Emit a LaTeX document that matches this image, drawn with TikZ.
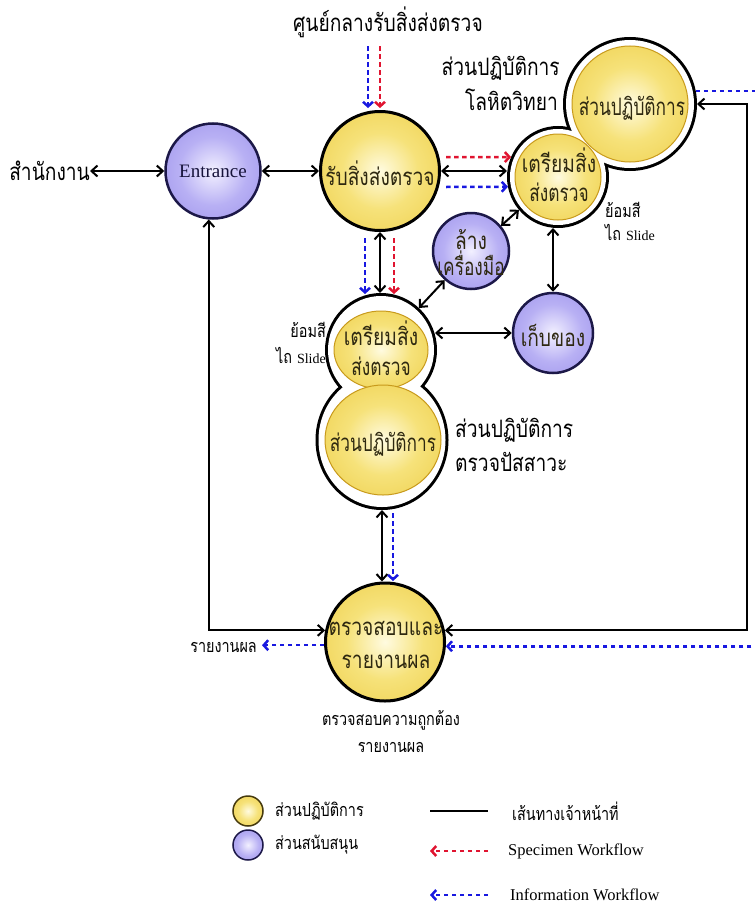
\documentclass[tikz,border=0pt]{standalone}
\usepackage{fontspec}
\setmainfont{Liberation Serif}
\newfontfamily\thai[Script=Thai,FakeStretch=0.8]{Loma}
\newfontfamily\thainarrow[Script=Thai,FakeStretch=0.72]{Loma}
\usetikzlibrary{arrows.meta,shapes.geometric,calc}

% palette
\definecolor{labgold}{HTML}{E8C12A}
\definecolor{labmid}{HTML}{F6E27A}
\definecolor{labcream}{HTML}{FFFBE0}
\definecolor{labrim}{HTML}{C89A1C}
\definecolor{supviolet}{HTML}{887CE4}
\definecolor{supmid}{HTML}{B8B0F4}
\definecolor{suppale}{HTML}{F2F0FF}
\definecolor{supedge}{HTML}{1C1848}
\definecolor{specred}{HTML}{E01430}
\definecolor{infoblue}{HTML}{1818E0}
\definecolor{inktext}{HTML}{2E2810}

\pgfdeclareradialshading{labglow}{\pgfpoint{0bp}{0bp}}{%
  color(0bp)=(labcream); color(16bp)=(labmid); color(50bp)=(labgold)}
\pgfdeclareradialshading{supglow}{\pgfpoint{0bp}{0bp}}{%
  color(0bp)=(suppale); color(18bp)=(supmid); color(50bp)=(supviolet)}

\tikzset{
  lab/.style={ellipse, shading=labglow, inner sep=0pt},
  labmain/.style={lab, draw=black, line width=3bp},
  labinner/.style={lab, draw=labrim, line width=1bp},
  support/.style={ellipse, shading=supglow, draw=supedge, line width=2.5bp, inner sep=0pt},
  ring/.style={ellipse, draw=black, fill=white, line width=6bp, inner sep=0pt},
  staff/.style={draw=black, line width=2bp,
    {Straight Barb[length=6bp,width=11bp]}-{Straight Barb[length=6bp,width=11bp]}},
  staffline/.style={draw=black, line width=2bp},
  specimen/.style={draw=specred, line width=2.5bp, dash pattern=on 4.5bp off 3.5bp,
    -{Straight Barb[length=4.5bp,width=10bp]}},
  info/.style={draw=infoblue, line width=2.5bp, dash pattern=on 4.5bp off 3.5bp,
    -{Straight Barb[length=4.5bp,width=10bp]}},
  intext/.style={inner sep=0pt, text=inktext, font=\thai\fontsize{24bp}{24bp}\selectfont},
  intextnarrow/.style={inner sep=0pt, text=inktext, font=\thainarrow\fontsize{24bp}{24bp}\selectfont},
  sidetext/.style={inner sep=0pt, text=black, font=\thai\fontsize{24bp}{24bp}\selectfont},
  smalltext/.style={inner sep=0pt, text=black, font=\thai\fontsize{18bp}{18bp}\selectfont},
  latintext/.style={inner sep=0pt, text=black, font=\fontsize{16.5bp}{16.5bp}\selectfont},
}
\newcommand{\slidetag}{{\fontsize{14bp}{14bp}\selectfont\rmfamily Slide}}

\begin{document}
\begin{tikzpicture}[x=1bp,y=-1bp]
\useasboundingbox[fill=white] (0,0) rectangle (755,906);

% ---------- stand-alone circles ----------
\node[support, minimum width=95bp, minimum height=95bp] (entr) at (213,171) {};
\node[labmain, minimum width=119bp, minimum height=119bp] (rcv) at (380,171) {};
\node[labmain, minimum width=119bp, minimum height=118bp] (chk) at (385,642) {};
\node[support, minimum width=76bp, minimum height=76bp] (wash) at (471,251) {};
\node[support, minimum width=80bp, minimum height=80bp] (store) at (553,333) {};

% ---------- haematology cluster (prep + lab inside one outline) ----------
\node[ring, minimum width=96bp, minimum height=96bp] (hemaprepring) at (558,177) {};
\node[ring, minimum width=128bp, minimum height=128bp] (hemaring) at (630,104) {};
\fill[white] (hemaprepring.center) circle[radius=48bp] (hemaring.center) circle[radius=64bp];
\node[labinner, minimum width=116bp, minimum height=116bp] (hemalab) at (630,104) {};
\node[labinner, minimum width=86bp, minimum height=86bp] (hemaprep) at (558,177) {};

% ---------- urinalysis cluster ----------
\node[ring, minimum width=106bp, minimum height=108bp] (urprepring) at (381,350) {};
\node[ring, minimum width=127bp, minimum height=134bp] (urring) at (382,440) {};
\fill[white] (urprepring.center) ellipse[x radius=53bp, y radius=54bp]
             (urring.center) ellipse[x radius=63.5bp, y radius=67bp];
\node[labinner, minimum width=94bp, minimum height=78bp] (urprep) at (381,350) {};
\node[labinner, minimum width=116bp, minimum height=110bp] (urlab) at (383,440) {};

% ---------- texts inside circles ----------
\node[inner sep=0pt, text=supedge!80!black, font=\fontsize{19bp}{19bp}\selectfont] (entr-t) at (entr) {Entrance};
\node[intext] (rcv-t) at (380,173) {รับสิ่งส่งตรวจ};
\node[intextnarrow] (hemalab-t) at (632,108) {ส่วนปฏิบัติการ};
\node[intext] (hemaprep-t1) at (559,160) {เตรียมสิ่ง};
\node[intextnarrow] (hemaprep-t2) at (559,192) {ส่งตรวจ};
\node[intext] (urprep-t1) at (381,333) {เตรียมสิ่ง};
\node[intextnarrow] (urprep-t2) at (381,366) {ส่งตรวจ};
\node[intextnarrow] (urlab-t) at (383,444) {ส่วนปฏิบัติการ};
\node[intext] (wash-t1) at (471,240) {ล้าง};
\node[intextnarrow] (wash-t2) at (471,263) {เครื่องมือ};
\node[intext] (store-t) at (553,335) {เก็บของ};
\node[intext] (chk-t1) at (386,628) {ตรวจสอบและ};
\node[intext] (chk-t2) at (386,662) {รายงานผล};

% ---------- side labels ----------
\node[sidetext] (centre-t) at (388,22) {ศูนย์กลางรับสิ่งส่งตรวจ};
\node[sidetext, anchor=east] (office) at (90,171) {สำนักงาน};
\node[sidetext, anchor=east] (hema-l1) at (560,68) {ส่วนปฏิบัติการ};
\node[sidetext, anchor=east] (hema-l2) at (558,100) {โลหิตวิทยา};
\node[smalltext, anchor=west] (stain-r1) at (605,210) {ย้อมสี};
\node[smalltext, anchor=west] (stain-r2) at (605,232) {ไถ \slidetag};
\node[smalltext, anchor=east] (stain-l1) at (326,330) {ย้อมสี};
\node[smalltext, anchor=east] (stain-l2) at (326,355) {ไถ \slidetag};
\node[sidetext, anchor=west] (ur-l1) at (455,430) {ส่วนปฏิบัติการ};
\node[sidetext, anchor=west] (ur-l2) at (455,462) {ตรวจปัสสาวะ};
\node[smalltext] (verify-t1) at (391,720) {ตรวจสอบความถูกต้อง};
\node[smalltext] (verify-t2) at (391,747) {รายงานผล};
\node[smalltext, anchor=east] (report-t) at (257,647) {รายงานผล};

% ---------- staff routes ----------
\draw[staff] (office.east) -- (entr.west);
\draw[staff] (entr.east) -- (rcv.west);
\draw[staff] (rcv.east) -- (rcv.east -| hemaprepring.west);
\draw[staff] (rcv.south) -- (rcv.south |- urprepring.north);
\draw[staff] (wash.40) -- (hemaprepring.220);
\draw[staff] (wash.228) -- (urprepring.48);
\draw[staff] (store.north) -- (store.north |- hemaprepring.south);
\draw[staff] ([xshift=-2bp]urprepring.east |- store.west) -- (store.west);
\draw[staff] (urring.south) -- (urring.south |- chk.north);
\draw[staff] (entr.265) |- (chk.169);
\coordinate (eastrail) at (747,400);
\draw[staff] (chk.11) -| (eastrail) |- (hemaring.east);

% ---------- specimen / information flows ----------
\coordinate (infoIn) at (368,46);
\coordinate (specIn) at (380,46);
\draw[info] (infoIn) -- (368,108);
\draw[specimen] (specIn) -- (380,108);
\draw[info] (365,238) -- (365,294);
\draw[specimen] (394,238) -- (394,294);
\draw[specimen] (446,157) -- (hemaprepring.157);
\draw[info] (446,187) -- (hemaprepring.191);
\draw[info] (393,513) -- (393,581);
\coordinate (reportOut) at (262,647);
\draw[info] (chk.183) -- (reportOut |- chk.183);
\begin{scope}
  \clip (0,0) rectangle (755,906);
  \coordinate (offedge) at (790,400);
  \draw[info] (hemaring.11) -| (offedge) |- (chk.356);
\end{scope}

% ---------- legend ----------
\node[ellipse, shading=labglow, draw=black!70!labgold, line width=1.5bp, minimum size=30bp, inner sep=0pt] (key-lab) at (248,811) {};
\node[ellipse, shading=supglow, draw=supedge, line width=1.5bp, minimum size=30bp, inner sep=0pt] (key-sup) at (248,845) {};
\node[smalltext, anchor=west] (key-lab-t) at (275,811) {ส่วนปฏิบัติการ};
\node[smalltext, anchor=west] (key-sup-t) at (275,845) {ส่วนสนับสนุน};
\coordinate (keyA1) at (430,811); \coordinate (keyA2) at (488,811);
\coordinate (keyB1) at (430,851); \coordinate (keyB2) at (488,851);
\coordinate (keyC1) at (430,895); \coordinate (keyC2) at (488,895);
\draw[staffline] (keyA1) -- (keyA2);
\draw[specimen] (keyB2) -- (keyB1);
\draw[info] (keyC2) -- (keyC1);
\node[smalltext, anchor=west] (key-staff-t) at (512,811) {เส้นทางเจ้าหน้าที่};
\node[latintext, anchor=west] (key-spec-t) at (508,851) {Specimen Workflow};
\node[latintext, anchor=west] (key-info-t) at (510,895) {Information Workflow};
\end{tikzpicture}
\end{document}
